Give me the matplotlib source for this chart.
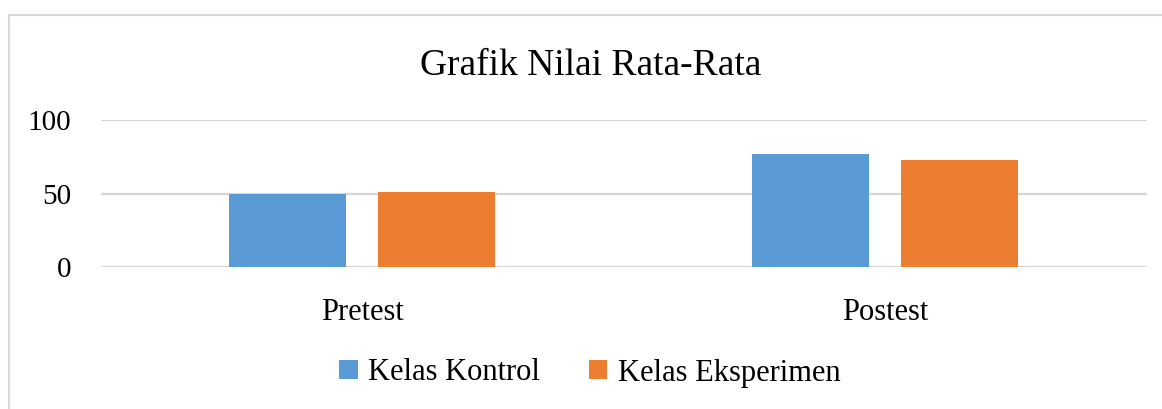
import numpy as np
import matplotlib.pyplot as plt
from matplotlib.patches import Rectangle

categories = ['Pretest', 'Postest']
kontrol = [50, 77]
eksperimen = [51, 73]
series_names = ['Kelas Kontrol', 'Kelas Eksperimen']
yticks = [0, 50, 100]

W, H = 1162, 409
plt.rcParams['font.family'] = ['Liberation Serif', 'DejaVu Serif']

fig = plt.figure(figsize=(W / 100, H / 100), dpi=100)
ax = fig.add_axes([100.5 / W, 1 - 267 / H, 1046 / W, 147 / H])

x = np.arange(len(categories))
bw = 0.224
off = 0.1425
b1 = ax.bar(x - off, kontrol, bw, color='#5b9bd5', zorder=3, label=series_names[0])
b2 = ax.bar(x + off, eksperimen, bw, color='#ed7d31', zorder=3, label=series_names[1])

ax.set_xlim(-0.5, 1.5)
ax.set_ylim(0, 100)
ax.set_yticks(yticks)
ax.set_xticks(x)
ax.set_xticklabels(categories)
ax.grid(axis='y', color='#d6d6d6', linewidth=1.6, zorder=0)
for s in ax.spines.values():
    s.set_visible(False)
ax.tick_params(axis='y', length=0, pad=21, labelsize=21)
ax.tick_params(axis='x', length=0, pad=22, labelsize=22)

fig.text(591 / W, 1 - 66 / H, 'Grafik Nilai Rata-Rata', ha='center', va='center', fontsize=27)

fig.legend(handles=[b1, b2], loc='center', bbox_to_anchor=(590 / W, 1 - 373 / H), ncol=2,
           frameon=False, fontsize=22, handlelength=0.6, handleheight=0.6,
           handletextpad=0.35, columnspacing=1.6)

fig.patches.append(Rectangle((9 / W, -0.1), 1.2, 1 - 15 / H + 0.1, transform=fig.transFigure,
                             fill=False, edgecolor='#d9d9d9', linewidth=1.5))

fig.savefig('out.png', dpi=100)
